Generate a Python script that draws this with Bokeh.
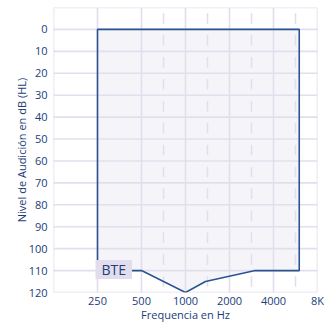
import math
from bokeh.plotting import figure
from bokeh.models import Range1d, FixedTicker, Label
from bokeh.embed import file_html
from bokeh.resources import INLINE

# ---- data ----
freq_ticks = [125, 250, 500, 1000, 2000, 4000, 8000]
freq_labels = ["", "250", "500", "1000", "2000", "4000", "8K"]
db_ticks = [-10, 0, 10, 20, 30, 40, 50, 60, 70, 80, 90, 100, 110, 120]
db_labels = ["", "0", "10", "20", "30", "40", "50", "60", "70", "80", "90", "100", "110", "120"]
half_octaves_from = 500  # dashed half-octave lines start after this frequency

# BTE fitting range outline (Hz, dB HL)
bte_freq = [250, 250, 6000, 6000, 3000, 1370, 1000, 500, 250]
bte_db = [110, 0, 0, 110, 110, 115, 120, 110, 110]
bte_label = "BTE"

TEXT = "#1b3d7a"
LINE = "#2a5491"
GRID = "#e3deed"
FILL = "#f5f5f9"
FONT = "Open Sans"

p = figure(width=324, height=324, output_backend="svg", toolbar_location=None,
           x_axis_type="log",
           x_range=Range1d(freq_ticks[0], freq_ticks[-1]),
           y_range=Range1d(db_ticks[-1], db_ticks[0]),
           min_border_left=53, min_border_right=7, min_border_top=7, min_border_bottom=31)
p.outline_line_color = None
p.xgrid.visible = False
p.ygrid.visible = False

# fill
p.patch(bte_freq, bte_db, fill_color=FILL, line_color=None)

# grid lines
p.segment(x0=freq_ticks, x1=freq_ticks, y0=[db_ticks[0]] * len(freq_ticks),
          y1=[db_ticks[-1]] * len(freq_ticks), line_color=GRID, line_width=1.6)
p.segment(x0=[freq_ticks[0]] * len(db_ticks), x1=[freq_ticks[-1]] * len(db_ticks),
          y0=db_ticks, y1=db_ticks, line_color=GRID, line_width=1.6)

# dashed half-octave lines (short dash centred in each row)
hx0, hy0, hy1 = [], [], []
for a, b in zip(freq_ticks[:-1], freq_ticks[1:]):
    if a < half_octaves_from:
        continue
    mid = math.sqrt(a * b)
    for t in db_ticks[:-1]:
        hx0.append(mid)
        hy0.append(t + 2.6)
        hy1.append(t + 7.4)
p.segment(x0=hx0, x1=hx0, y0=hy0, y1=hy1, line_color=GRID, line_width=1.6)

# outline
p.line(bte_freq, bte_db, line_color=LINE, line_width=1.6)

# label
lab = Label(x=bte_freq[0], y=bte_db[0], text=bte_label, x_offset=-2, y_offset=1,
            text_align="left", text_baseline="middle",
            text_font=FONT, text_font_size="14px", text_color=TEXT,
            text_line_height=0.9,
            background_fill_color="#e2ddec",
            padding=dict(left=6, right=6, top=0, bottom=0))
p.add_layout(lab)

# axes
p.xaxis.ticker = FixedTicker(ticks=freq_ticks, minor_ticks=[])
p.xaxis.major_label_overrides = {f: l for f, l in zip(freq_ticks, freq_labels)}
p.yaxis.ticker = FixedTicker(ticks=db_ticks, minor_ticks=[])
p.yaxis.major_label_overrides = {d: l for d, l in zip(db_ticks, db_labels)}
for ax in (p.xaxis, p.yaxis):
    ax.axis_line_color = None
    ax.major_tick_line_color = None
    ax.minor_tick_line_color = None
    ax.major_tick_out = 0
    ax.major_tick_in = 0
    ax.major_label_text_font = FONT
    ax.major_label_text_font_size = "11px"
    ax.major_label_text_color = TEXT
    ax.axis_label_text_font = FONT
    ax.axis_label_text_font_size = "11px"
    ax.axis_label_text_font_style = "normal"
    ax.axis_label_text_color = TEXT
p.xaxis.major_label_standoff = 0
p.yaxis.major_label_standoff = 6
p.xaxis.axis_label = "Frequencia en Hz"
p.yaxis.axis_label = "Nivel de Audición en dB (HL)"
p.xaxis.axis_label_standoff = -4
p.yaxis.axis_label_standoff = -3

open("out.html", "w").write(file_html(p, INLINE))
